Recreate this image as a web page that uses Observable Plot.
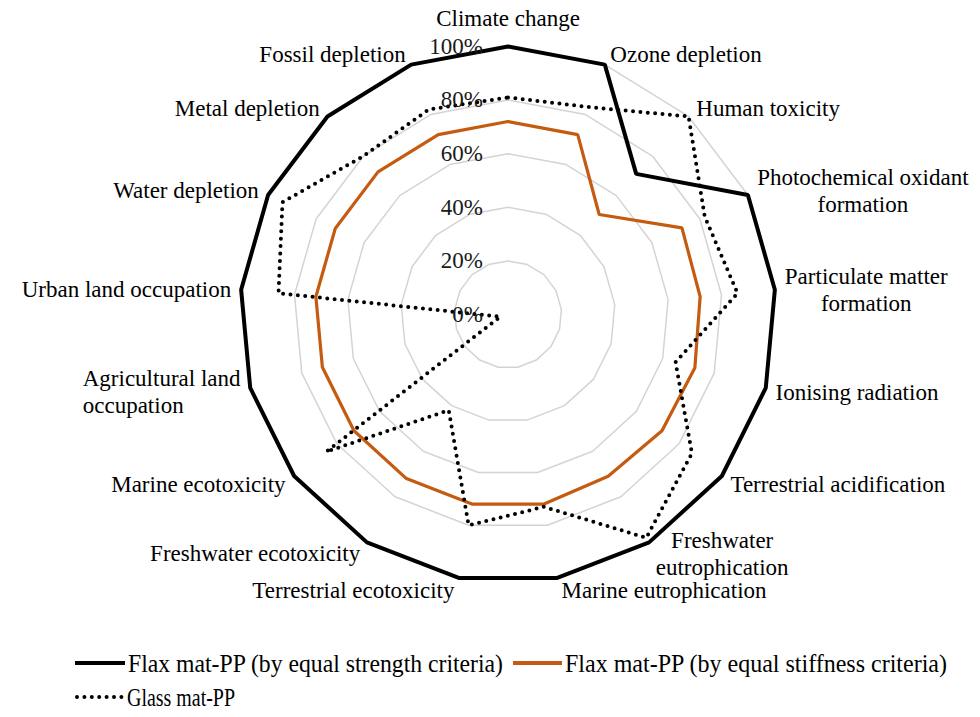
<!DOCTYPE html>
<html><head><meta charset="utf-8">
<script src="https://cdn.jsdelivr.net/npm/d3@7"></script>
<script src="https://cdn.jsdelivr.net/npm/@observablehq/plot@0.6"></script>
<style>
body{margin:0;background:#fff;}
#chart{width:980px;}
#legend{display:block;}
</style></head><body><div id="chart"></div>
<script>
const categories = ["Climate change","Ozone depletion","Human toxicity","Photochemical oxidant\nformation","Particulate matter\nformation","Ionising radiation","Terrestrial acidification","Freshwater\neutrophication","Marine eutrophication","Terrestrial ecotoxicity","Freshwater ecotoxicity","Marine ecotoxicity","Agricultural land\noccupation","Urban land occupation","Water depletion","Metal depletion","Fossil depletion"];
const strength  = [100,100,71,100,100,100,100,100,100,100,100,100,100,100,100,100,100];
const stiffness = [72,72,50.5,72.5,72,72.5,72,71,72,72,72,72,72,72,72,72,72];
const glass     = [81,83,100,82,86,65,86,98,73,80,42,85,3,86,94,80,82];
const ticks = [0,20,40,60,80,100];
const tickLabels = ["0%","20%","40%","60%","80%","100%"];
const seriesNames = ["Flax mat-PP (by equal strength criteria)","Flax mat-PP (by equal stiffness criteria)","Glass mat-PP"];
const seriesColors = ["#000000","#C55A11","#000000"];

const n = categories.length;
const ang = i => 2*Math.PI*i/n;
const PX = 268; // pixels per unit (100%)
const FONT = "'Liberation Serif','Times New Roman',serif";
const FS = 23;

function pts(values, name) {
  return values.map((v,i) => ({x: v/100*Math.sin(ang(i)), y: v/100*Math.cos(ang(i)), series: name}));
}
const rings = ticks.filter(t => t > 0).flatMap(t => categories.map((c,i) => ({x: t/100*Math.sin(ang(i)), y: t/100*Math.cos(ang(i)), t})));

const ctx = document.createElement("canvas").getContext("2d");
ctx.font = `${FS}px 'Liberation Serif'`;
const labels = categories.map((c,i) => {
  const s = Math.sin(ang(i)), co = Math.cos(ang(i));
  const maxW = Math.max(...c.split("\n").map(l => ctx.measureText(l).width));
  const h = (3 + 7*Math.abs(s))/PX;
  let side, x, y;
  if (Math.abs(s) < 0.05) { side = "top"; x = 0; y = co*(1 + 28/PX); }
  else if (s > 0) { side = "right"; x = s + h + maxW/2/PX; y = co + co*12/PX; }
  else { side = "left"; x = s - h - maxW/PX; y = co + co*12/PX; }
  return {text: c, x, y, side};
});

const chart = Plot.plot({
  width: 980, height: 630,
  marginLeft: 239.5, marginRight: 204.5, marginTop: 46, marginBottom: 48,
  x: {domain: [-1,1], axis: null},
  y: {domain: [-1,1], axis: null},
  style: {fontFamily: FONT, background: "#fff", overflow: "visible"},
  marks: [
    Plot.line(rings, {x: "x", y: "y", z: "t", curve: "linear-closed", stroke: "#d4d4d4", strokeWidth: 1.5}),
    Plot.line(pts(strength, seriesNames[0]), {x: "x", y: "y", curve: "linear-closed", stroke: seriesColors[0], strokeWidth: 4, strokeLinejoin: "miter"}),
    Plot.line(pts(stiffness, seriesNames[1]), {x: "x", y: "y", curve: "linear-closed", stroke: seriesColors[1], strokeWidth: 3.2, strokeLinejoin: "miter"}),
    Plot.line(pts(glass, seriesNames[2]), {x: "x", y: "y", curve: "linear-closed", stroke: seriesColors[2], strokeWidth: 4, strokeLinecap: "round", strokeDasharray: "0 7.4"}),
    Plot.text(ticks, {x: () => 0, y: d => d/100, text: (d,i) => tickLabels[i], textAnchor: "end", lineAnchor: "middle", dx: -25, fontSize: FS, fill: "#1a1a1a"}),
    Plot.text(labels.filter(d => d.side === "top"), {x: "x", y: "y", text: "text", textAnchor: "middle", lineAnchor: "middle", fontSize: FS, fill: "#000"}),
    Plot.text(labels.filter(d => d.side === "right"), {x: "x", y: "y", text: "text", textAnchor: "middle", lineAnchor: "middle", lineHeight: 27/FS, fontSize: FS, fill: "#000"}),
    Plot.text(labels.filter(d => d.side === "left"), {x: "x", y: "y", text: "text", textAnchor: "start", lineAnchor: "middle", lineHeight: 27/FS, fontSize: FS, fill: "#000"})
  ]
});
document.getElementById("chart").appendChild(chart);

// Legend below the chart
const legendItems = [
  {name: seriesNames[0], color: seriesColors[0], dash: null, sx: 75, sw: 50, tx: 128, tw: 375, y: 33},
  {name: seriesNames[1], color: seriesColors[1], dash: null, sx: 513, sw: 49, tx: 565, tw: 382, y: 33},
  {name: seriesNames[2], color: seriesColors[2], dash: "0 7.4", sx: 77, sw: 45, tx: 127, tw: 108, y: 67}
];
const lg = d3.select("#chart").append("svg").attr("id","legend").attr("width", 980).attr("height", 87);
for (const it of legendItems) {
  lg.append("line").attr("x1", it.sx).attr("x2", it.sx + it.sw).attr("y1", it.y).attr("y2", it.y)
    .attr("stroke", it.color).attr("stroke-width", 4)
    .attr("stroke-linecap", it.dash ? "round" : "butt")
    .attr("stroke-dasharray", it.dash);
  lg.append("text").attr("x", it.tx).attr("y", it.y).attr("dy", "0.35em")
    .attr("font-family", FONT).attr("font-size", 25).attr("fill", "#000")
    .attr("textLength", it.tw).attr("lengthAdjust", "spacingAndGlyphs")
    .text(it.name);
}
</script></body></html>
